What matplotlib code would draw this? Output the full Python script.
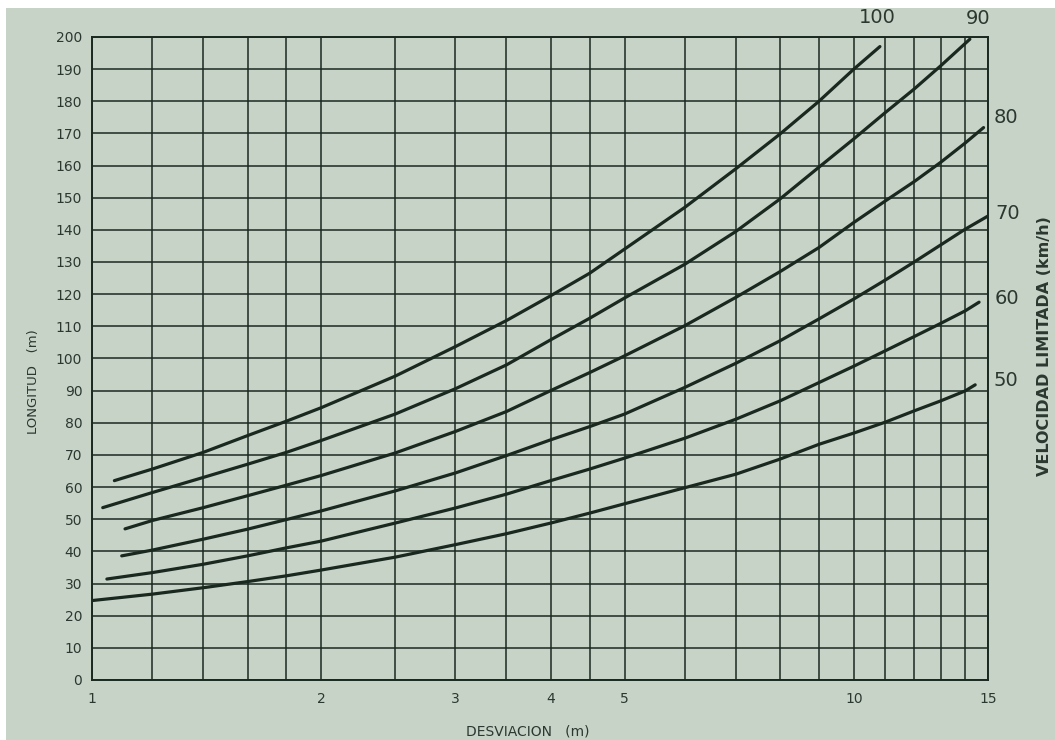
import matplotlib
matplotlib.use("Agg")
import matplotlib.pyplot as plt
from matplotlib.patches import Rectangle

# Desviacion (m) - lineas de rejilla del papel logaritmico
grid_x = [1.2, 1.4, 1.6, 1.8, 2, 2.5, 3, 3.5, 4, 4.5, 5, 6, 7, 8, 9, 10, 11, 12, 13, 14]

v100_x = [1.07, 1.2, 1.4, 1.6, 1.8, 2, 2.5, 3, 3.5, 4, 4.5, 5, 6, 7, 8, 9, 10, 10.82]
v100_y = [62.0, 65.6, 70.8, 76.0, 80.5, 84.7, 94.5, 103.7, 111.8, 119.5, 126.5, 134.0, 147.0, 159.0, 169.8, 180.0, 190.0, 197.0]

v90_x = [1.033, 1.2, 1.4, 1.6, 1.8, 2, 2.5, 3, 3.5, 4, 4.5, 5, 6, 7, 8, 9, 10, 11, 12, 13, 14.2]
v90_y = [53.6, 58.3, 63.0, 67.1, 70.8, 74.5, 82.7, 90.6, 98.0, 105.8, 112.5, 118.8, 129.3, 139.5, 149.6, 159.5, 168.3, 176.5, 183.8, 191.0, 199.3]

v80_x = [1.105, 1.2, 1.4, 1.6, 1.8, 2, 2.5, 3, 3.5, 4, 4.5, 5, 6, 7, 8, 9, 10, 11, 12, 13, 14, 14.8]
v80_y = [47.0, 49.6, 53.6, 57.3, 60.6, 63.6, 70.6, 77.3, 83.5, 90.0, 95.6, 100.8, 110.2, 119.0, 127.0, 134.5, 142.3, 149.0, 155.0, 161.0, 167.0, 171.8]

v70_x = [1.094, 1.2, 1.4, 1.6, 1.8, 2, 2.5, 3, 3.5, 4, 4.5, 5, 6, 7, 8, 9, 10, 11, 12, 13, 14, 15]
v70_y = [38.6, 40.4, 43.8, 46.9, 49.9, 52.6, 58.8, 64.4, 69.8, 74.7, 78.8, 82.7, 91.0, 98.5, 105.5, 112.3, 118.5, 124.4, 130.0, 135.3, 140.2, 144.3]

v60_x = [1.046, 1.2, 1.4, 1.6, 1.8, 2, 2.5, 3, 3.5, 4, 4.5, 5, 6, 7, 8, 9, 10, 11, 12, 13, 14, 14.6]
v60_y = [31.4, 33.4, 36.0, 38.6, 41.1, 43.2, 48.8, 53.5, 57.8, 62.0, 65.6, 69.0, 75.2, 81.1, 86.8, 92.5, 97.6, 102.4, 106.8, 110.9, 114.8, 117.5]

v50_x = [1.0, 1.2, 1.4, 1.6, 1.8, 2, 2.5, 3, 3.5, 4, 4.5, 5, 6, 7, 8, 9, 10, 11, 12, 13, 14, 14.43]
v50_y = [24.7, 26.7, 28.7, 30.6, 32.4, 34.2, 38.2, 42.1, 45.5, 48.8, 51.9, 54.8, 59.8, 64.0, 68.7, 73.3, 76.8, 80.2, 83.7, 86.8, 89.9, 91.8]

curves = [("100", v100_x, v100_y), ("90", v90_x, v90_y), ("80", v80_x, v80_y),
          ("70", v70_x, v70_y), ("60", v60_x, v60_y), ("50", v50_x, v50_y)]

x_labels = {1: "1", 2: "2", 3: "3", 4: "4", 5: "5", 10: "10", 15: "15"}
y_ticks = list(range(0, 201, 10))

bg = "#c8d3c8"
ink = "#1a2920"
txt = "#2a3830"

fig = plt.figure(figsize=(10.55, 7.4), dpi=100, facecolor="white")
fig.patches.append(Rectangle((0.006, 0.0), 0.994, 0.989, transform=fig.transFigure,
                             facecolor=bg, edgecolor="none", zorder=-10))

ax = fig.add_axes([0.0872, 0.0811, 0.8493, 0.869])
ax.set_facecolor(bg)
ax.set_xscale("log")
ax.set_xlim(1, 15)
ax.set_ylim(0, 200)

xt = [1] + grid_x + [15]
ax.set_xticks(xt)
ax.set_xticklabels([x_labels.get(v, "") for v in xt])
ax.xaxis.set_minor_locator(matplotlib.ticker.NullLocator())
ax.set_yticks(y_ticks)
ax.set_yticklabels([str(v) for v in y_ticks])
ax.tick_params(length=0, labelsize=10, colors=txt, pad=7)
ax.tick_params(axis="x", pad=9)
ax.grid(True, color=ink, linewidth=1.1)
for s in ax.spines.values():
    s.set_color(ink)
    s.set_linewidth(1.4)

# Curvas por velocidad
for label, xs, ys in curves:
    ax.plot(xs, ys, color=ink, linewidth=2.3, solid_capstyle="round",
            solid_joinstyle="round", zorder=3)

# Etiquetas de las curvas
offsets = {"100": (-2, 21, "center"), "90": (6, 15, "center"), "80": (7, 7, "left"),
           "70": (5, 2, "left"), "60": (11, 3, "left"), "50": (13, 3, "left")}
for label, xs, ys in curves:
    dx, dy, ha = offsets[label]
    ax.annotate(label, (xs[-1], ys[-1]), xytext=(dx, dy), textcoords="offset points",
                ha=ha, va="center", fontsize=14, color=txt, annotation_clip=False)

fig.text(0.032, 0.484, "LONGITUD   (m)", rotation=90, ha="center", va="center",
         fontsize=9.5, color=txt)
fig.text(0.99, 0.532, "VELOCIDAD LIMITADA (km/h)", rotation=90, ha="center", va="center",
         fontsize=11.5, color=txt, fontweight="bold")
fig.text(0.5, 0.002, "DESVIACION   (m)", ha="center", va="bottom",
         fontsize=10, color=txt)

fig.savefig("out.png", dpi=100, facecolor=fig.get_facecolor())
